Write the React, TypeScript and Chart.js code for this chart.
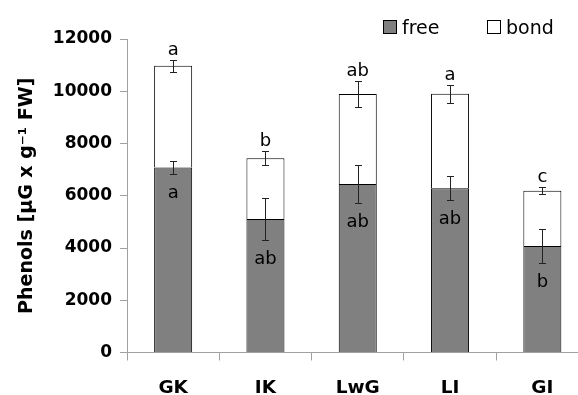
import React, { useEffect, useRef } from "react";
import { Chart, registerables } from "chart.js";

Chart.register(...registerables);

// ---- data ----
const categories = ["GK", "IK", "LwG", "LI", "GI"];
const seriesNames = ["free", "bond"];
const freeValues = [7080, 5110, 6450, 6290, 4080];
const bondValues = [3900, 2330, 3440, 3610, 2110];
const freeErrors = [240, 790, 735, 455, 650];
const totalErrors = [235, 280, 505, 345, 140];
const freeLetters = ["a", "ab", "ab", "ab", "b"];
const totalLetters = ["a", "b", "ab", "a", "c"];
const yMin = 0;
const yMax = 12000;
const yStep = 2000;
const yTitle = "Phenols [µG x g⁻¹ FW]";

const FONT = "'DejaVu Sans', sans-serif";
const FREE_COLOR = "#808080";
const BOND_COLOR = "#ffffff";
const AXIS_COLOR = "#a0a0a0";

const annotatePlugin = {
  id: "annotate",
  afterDatasetsDraw(chart: any) {
    const { ctx, scales } = chart;
    const x = scales.x;
    const y = scales.y;
    ctx.save();
    ctx.strokeStyle = "#222";
    ctx.lineWidth = 1;
    const cap = 3.5;
    const errBar = (cx: number, v: number, e: number) => {
      const yt = Math.round(y.getPixelForValue(v + e)) + 0.5;
      const yb = Math.round(y.getPixelForValue(v - e)) + 0.5;
      const xc = Math.round(cx) + 0.5;
      ctx.beginPath();
      ctx.moveTo(xc, yt);
      ctx.lineTo(xc, yb);
      ctx.moveTo(xc - cap, yt);
      ctx.lineTo(xc + cap, yt);
      ctx.moveTo(xc - cap, yb);
      ctx.lineTo(xc + cap, yb);
      ctx.stroke();
      return [yt, yb];
    };
    ctx.fillStyle = "#000";
    ctx.font = `18px ${FONT}`;
    ctx.textAlign = "center";
    ctx.textBaseline = "alphabetic";
    categories.forEach((_, i) => {
      const cx = x.getPixelForValue(i);
      const total = freeValues[i] + bondValues[i];
      const [, fb] = errBar(cx, freeValues[i], freeErrors[i]);
      const [tt] = errBar(cx, total, totalErrors[i]);
      ctx.fillText(totalLetters[i], cx, tt - 6);
      ctx.fillText(freeLetters[i], cx, fb + 23);
    });
    ctx.restore();
  },
  afterDraw(chart: any) {
    const { ctx } = chart;
    ctx.save();
    const colors = [FREE_COLOR, BOND_COLOR];
    const starts = [383, 487];
    ctx.font = `19px ${FONT}`;
    ctx.textAlign = "left";
    ctx.textBaseline = "alphabetic";
    seriesNames.forEach((name, k) => {
      const bx = starts[k];
      ctx.fillStyle = colors[k];
      ctx.fillRect(bx, 20, 14, 14);
      ctx.strokeStyle = "#000";
      ctx.lineWidth = 1;
      ctx.strokeRect(bx + 0.5, 20.5, 13, 13);
      ctx.fillStyle = "#000";
      ctx.fillText(name, bx + 19, 33.5);
    });
    ctx.restore();
  },
};

export default function App() {
  const ref = useRef<HTMLCanvasElement | null>(null);
  useEffect(() => {
    if (!ref.current) return;
    const chart = new Chart(ref.current, {
      type: "bar",
      data: {
        labels: categories,
        datasets: [
          {
            label: seriesNames[0],
            data: freeValues,
            backgroundColor: FREE_COLOR,
            borderColor: "#000",
            borderWidth: 1,
            categoryPercentage: 1,
            barPercentage: 0.412,
          },
          {
            label: seriesNames[1],
            data: bondValues,
            backgroundColor: BOND_COLOR,
            borderColor: "#000",
            borderWidth: 1,
            categoryPercentage: 1,
            barPercentage: 0.412,
          },
        ],
      },
      options: {
        animation: false,
        responsive: false,
        devicePixelRatio: 1,
        layout: { padding: { top: 39, right: 11.5, bottom: 0, left: 0 } },
        plugins: {
          legend: { display: false },
          tooltip: { enabled: false },
        },
        scales: {
          x: {
            stacked: true,
            grid: {
              offset: true,
              drawOnChartArea: false,
              tickLength: 8,
              color: AXIS_COLOR,
            },
            border: { color: AXIS_COLOR, width: 1 },
            ticks: {
              color: "#000",
              padding: 17,
              font: { family: FONT, size: 18.5, weight: "bold" },
            },
            afterFit(scale: any) {
              scale.height = 42.5;
            },
          },
          y: {
            stacked: true,
            min: yMin,
            max: yMax,
            ticks: {
              stepSize: yStep,
              color: "#000",
              padding: 8,
              font: { family: FONT, size: 17, weight: "bold" },
              callback: (v: any) => String(v),
            },
            grid: {
              drawOnChartArea: false,
              tickLength: 7,
              color: AXIS_COLOR,
            },
            border: { color: AXIS_COLOR, width: 1 },
            title: {
              display: true,
              text: yTitle,
              color: "#000",
              padding: { top: 15.6, bottom: 0 },
              font: { family: FONT, size: 19, weight: "bold" },
            },
            afterFit(scale: any) {
              scale.width = 127;
            },
          },
        },
      },
      plugins: [annotatePlugin],
    });
    return () => chart.destroy();
  }, []);
  return (
    <div
      style={{
        position: "fixed",
        left: 0,
        top: 0,
        width: 578,
        height: 395,
        overflow: "hidden",
        background: "#fff",
      }}
    >
      <canvas ref={ref} width={600} height={395} style={{ width: 600, height: 395, display: "block" }} />
    </div>
  );
}
